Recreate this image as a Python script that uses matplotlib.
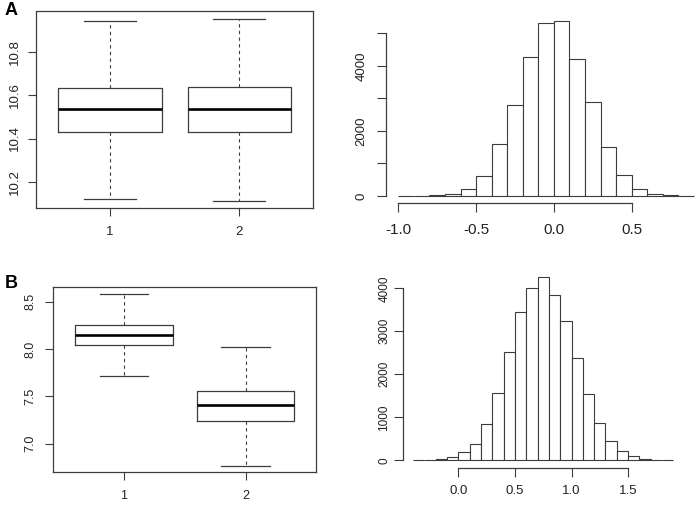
import matplotlib
matplotlib.use("Agg")
import matplotlib.pyplot as plt
import numpy as np

plt.rcParams["font.family"] = ["Liberation Sans", "DejaVu Sans"]

W, H = 698, 505
LINE = "#3c3c3c"
TEXT = "#222222"

# ── Panel A: boxplot stats ─────────────────────────────────────────────────────
a_box_lo   = [10.120, 10.112]
a_box_q1   = [10.429, 10.429]
a_box_med  = [10.535, 10.535]
a_box_q3   = [10.635, 10.637]
a_box_hi   = [10.945, 10.954]
a_box_yticks = [10.2, 10.4, 10.6, 10.8]

# ── Panel A: histogram ─────────────────────────────────────────────────────────
a_hist_start = -1.0
a_hist_counts = [2, 5, 20, 70, 215, 630, 1590, 2805, 4285, 5305,
                 5380, 4205, 2900, 1510, 650, 225, 70, 20, 5]
a_hist_xticks = [-1.0, -0.5, 0.0, 0.5]
a_hist_yticks = [0, 1000, 2000, 3000, 4000, 5000]
a_hist_ylabels = ["0", "", "2000", "", "4000", ""]

# ── Panel B: boxplot stats ─────────────────────────────────────────────────────
b_box_lo   = [7.719, 6.763]
b_box_q1   = [8.040, 7.243]
b_box_med  = [8.152, 7.406]
b_box_q3   = [8.257, 7.557]
b_box_hi   = [8.584, 8.025]
b_box_yticks = [7.0, 7.5, 8.0, 8.5]

# ── Panel B: histogram ─────────────────────────────────────────────────────────
b_hist_start = -0.4
b_hist_counts = [5, 12, 25, 70, 185, 390, 845, 1575, 2520, 3460, 4015, 4270,
                 3840, 3250, 2370, 1535, 875, 457, 210, 95, 40, 15, 5]
b_hist_xticks = [0.0, 0.5, 1.0, 1.5]
b_hist_yticks = [0, 1000, 2000, 3000, 4000]

BIN_W = 0.1


def rect(x0, x1, y0, y1):
    return [x0 / W, 1 - y1 / H, (x1 - x0) / W, (y1 - y0) / H]


def draw_box(ax, lo, q1, med, q3, hi, yticks, ylim, xlim, fs, ypad, xpad):
    stats = [dict(whislo=l, q1=a, med=m, q3=b, whishi=h, fliers=[])
             for l, a, m, b, h in zip(lo, q1, med, q3, hi)]
    ax.bxp(stats, positions=[1, 2], widths=0.8, capwidths=0.4,
           showfliers=False,
           boxprops=dict(color=LINE, linewidth=0.9),
           whiskerprops=dict(color=LINE, linewidth=0.8, linestyle=(0, (3, 3))),
           capprops=dict(color=LINE, linewidth=0.9),
           medianprops=dict(color="black", linewidth=1.9))
    ax.set_xlim(*xlim)
    ax.set_ylim(*ylim)
    ax.set_xticks([1, 2])
    ax.set_xticklabels(["1", "2"])
    ax.set_yticks(yticks)
    ax.set_yticklabels([f"{v:.1f}" for v in yticks], rotation=90, va="center")
    for sp in ax.spines.values():
        sp.set_color(LINE)
        sp.set_linewidth(0.9)
    ax.tick_params(axis="both", direction="out", length=6, width=0.8,
                   color=LINE, labelsize=fs, labelcolor=TEXT)
    ax.tick_params(axis="y", pad=ypad)
    ax.tick_params(axis="x", pad=xpad)


def draw_hist(ax, start, counts, xticks, yticks, ylabels, xlim, ylim,
              xfs, yfs, xpad, ypad):
    lefts = [start + i * BIN_W for i in range(len(counts))]
    ax.bar(lefts, counts, width=BIN_W, align="edge", color="white",
           edgecolor=LINE, linewidth=0.8)
    ax.set_xlim(*xlim)
    ax.set_ylim(*ylim)
    ax.set_xticks(xticks)
    ax.set_xticklabels([f"{v:.1f}" for v in xticks])
    ax.set_yticks(yticks)
    ax.set_yticklabels(ylabels, rotation=90, va="center")
    for side in ("top", "right"):
        ax.spines[side].set_visible(False)
    ax.spines["left"].set_bounds(yticks[0], yticks[-1])
    ax.spines["bottom"].set_bounds(xticks[0], xticks[-1])
    for side in ("left", "bottom"):
        ax.spines[side].set_color(LINE)
        ax.spines[side].set_linewidth(0.9)
    ax.tick_params(axis="both", direction="out", length=6.5, width=0.8,
                   color=LINE, labelcolor=TEXT)
    ax.tick_params(axis="x", labelsize=xfs, pad=xpad)
    ax.tick_params(axis="y", labelsize=yfs, pad=ypad)


fig = plt.figure(figsize=(W / 100, H / 100), dpi=100, facecolor="white")

ax_a1 = fig.add_axes(rect(36, 313, 11.5, 208))
draw_box(ax_a1, a_box_lo, a_box_q1, a_box_med, a_box_q3, a_box_hi,
         a_box_yticks, (10.079, 10.987), (0.428, 2.57), 9.5, 4.5, 7)

ax_a2 = fig.add_axes(rect(386, 698, 13.6, 203.3))
draw_hist(ax_a2, a_hist_start, a_hist_counts, a_hist_xticks, a_hist_yticks,
          a_hist_ylabels, (-1.079, 0.926), (-224, 5605), 11, 9.5, 8, 7)

ax_b1 = fig.add_axes(rect(52.7, 316, 286.7, 472.3))
draw_box(ax_b1, b_box_lo, b_box_q1, b_box_med, b_box_q3, b_box_hi,
         b_box_yticks, (6.698, 8.658), (0.414, 2.578), 9, 5.5, 7)

ax_b2 = fig.add_axes(rect(402.7, 683.8, 269.3, 467.7))
draw_hist(ax_b2, b_hist_start, b_hist_counts, b_hist_xticks, b_hist_yticks,
          [str(v) for v in b_hist_yticks], (-0.492, 1.992), (-172, 4442),
          9.5, 8.5, 6, 2.5)

fig.text(5 / W, 1 - 2 / H, "A", fontsize=13, fontweight="bold",
         ha="left", va="top")
fig.text(5 / W, 1 - 275 / H, "B", fontsize=13, fontweight="bold",
         ha="left", va="top")

fig.savefig("out.png", dpi=100, facecolor="white")
